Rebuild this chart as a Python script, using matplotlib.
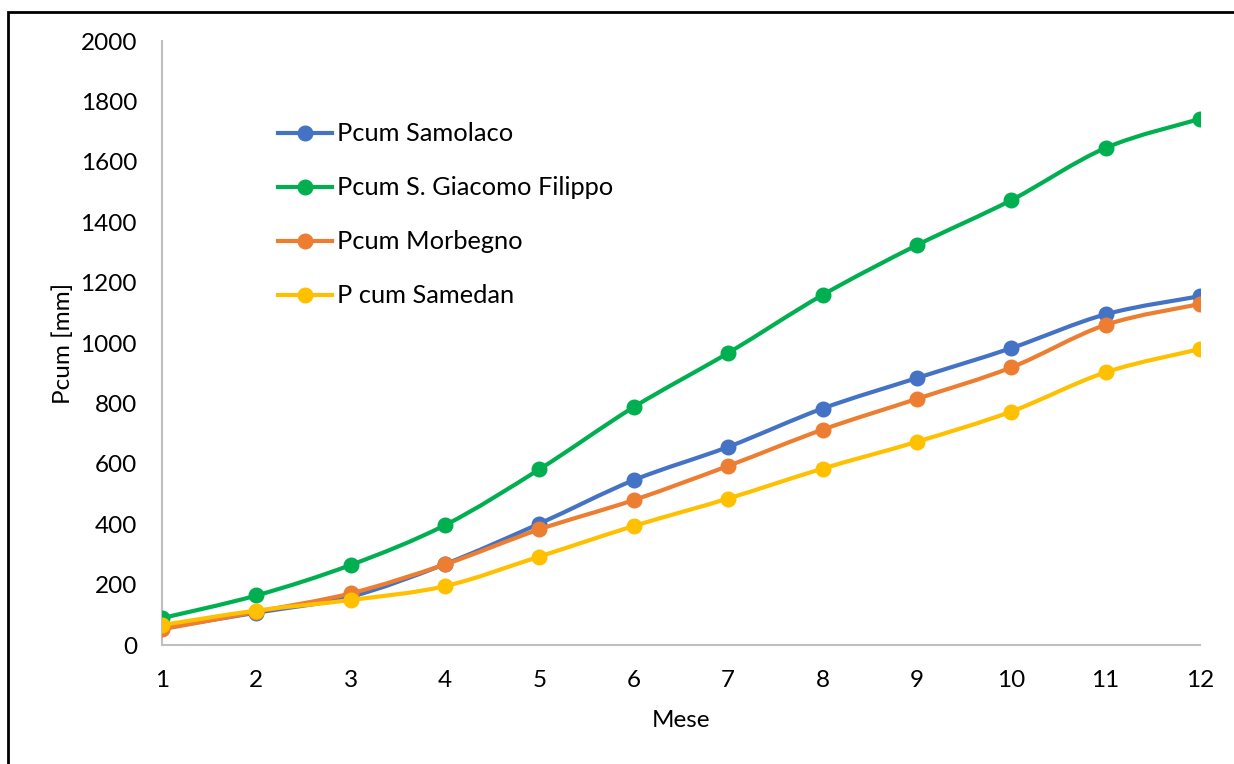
import numpy as np
import matplotlib
matplotlib.use("Agg")
import matplotlib.pyplot as plt
from matplotlib.path import Path
from matplotlib.patches import PathPatch, Rectangle
from matplotlib.lines import Line2D

plt.rcParams['font.family'] = ['Lato', 'DejaVu Sans']

months = [1, 2, 3, 4, 5, 6, 7, 8, 9, 10, 11, 12]
samolaco = [56, 107, 160, 268, 402, 546, 656, 783, 884, 983, 1095, 1155]
giacomo = [89, 164, 265, 397, 582, 788, 967, 1159, 1324, 1473, 1646, 1742]
morbegno = [52, 110, 171, 267, 383, 480, 593, 713, 815, 919, 1060, 1129]
samedan = [66, 114, 149, 195, 293, 394, 485, 584, 673, 773, 903, 980]

labels = ["Pcum Samolaco", "Pcum S. Giacomo Filippo", "Pcum Morbegno", "P cum Samedan"]
colors = ["#4472C4", "#00B050", "#ED7D31", "#FFC000"]
series = [samolaco, giacomo, morbegno, samedan]

yticks = [0, 200, 400, 600, 800, 1000, 1200, 1400, 1600, 1800, 2000]

fig = plt.figure(figsize=(12.34, 7.64), dpi=100)
ax = fig.add_axes([162/1234, 1-645/764, (1200-162)/1234, (645-41)/764])


def smooth_path(x, y):
    P = np.column_stack([x, y]).astype(float)
    n = len(P)
    verts = [P[0]]
    codes = [Path.MOVETO]
    for i in range(n-1):
        p0 = P[i-1] if i > 0 else P[i]
        p1 = P[i]
        p2 = P[i+1]
        p3 = P[i+2] if i+2 < n else P[i+1]
        c1 = p1 + (p2 - p0) / 6.0
        c2 = p2 - (p3 - p1) / 6.0
        verts += [c1, c2, p2]
        codes += [Path.CURVE4]*3
    return Path(verts, codes)


handles = []
for i, (s, c, lab) in enumerate(zip(series, colors, labels)):
    patch = PathPatch(smooth_path(months, s), facecolor='none', edgecolor=c,
                      lw=3.0, transform=ax.transData, zorder=2+i*2, capstyle='round')
    ax.add_patch(patch)
    ax.plot(months, s, 'o', color=c, markersize=10.5, linestyle='none', zorder=3+i*2)
    handles.append(Line2D([0], [0], color=c, lw=3.0, marker='o', markersize=10.5))

ax.set_xlim(1, 12)
ax.set_ylim(0, 2000)
ax.set_xticks(months)
ax.set_xticklabels([str(m) for m in months])
ax.set_yticks(yticks)
ax.set_yticklabels([str(v) for v in yticks])
ax.tick_params(axis='both', length=0, labelsize=17.5, colors='black')
ax.tick_params(axis='y', pad=18)
ax.tick_params(axis='x', pad=18)
for side in ['top', 'right']:
    ax.spines[side].set_visible(False)
for side in ['left', 'bottom']:
    ax.spines[side].set_color('#BFBFBF')
    ax.spines[side].set_linewidth(1.5)

ax.set_xlabel("Mese", fontsize=17.5, labelpad=14)
ax.set_ylabel("Pcum [mm]", fontsize=17.5, labelpad=5)

leg = ax.legend(handles, labels, loc='upper left', bbox_to_anchor=(0.09, 0.903),
                frameon=False, fontsize=18.3, handlelength=2.1, handletextpad=0.2,
                labelspacing=1.22)

fig.patches.append(Rectangle((8/1234, -0.1), 1.2, 1 - 12/764 + 0.1, transform=fig.transFigure,
                             fill=False, edgecolor='black', lw=2))

fig.savefig("out.png", dpi=100)
